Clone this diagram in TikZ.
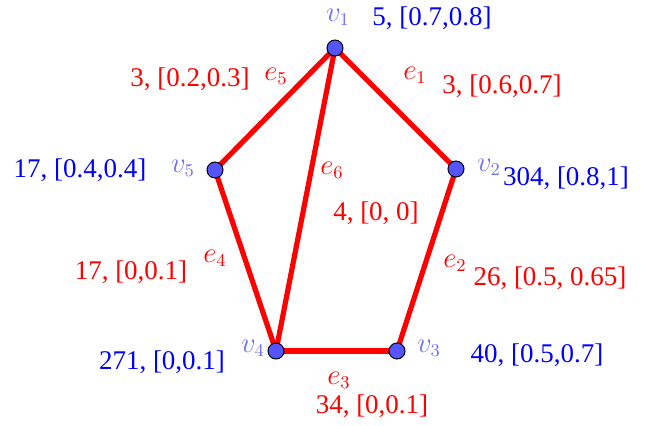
\documentclass[tikz,border=0pt]{standalone}
\usepackage{fontspec}
\setmainfont{Liberation Serif}
\usetikzlibrary{backgrounds}
\definecolor{vblue}{RGB}{85,85,255}
\definecolor{lblue}{RGB}{110,110,255}
\definecolor{tblue}{RGB}{0,0,255}
\definecolor{ered}{RGB}{255,0,0}
\begin{document}
\begin{tikzpicture}[x=0.5pt,y=-0.5pt,
  vert/.style={circle,draw=black,line width=0.5pt,fill=vblue,minimum size=8pt,inner sep=0pt},
  edge/.style={ered,line width=2.6pt},
  lab/.style={inner sep=0pt,font=\fontsize{13.5}{15}\selectfont},
  vlab/.style={lab,text=lblue},
  vval/.style={lab,text=tblue},
  elab/.style={lab,text=ered}]
\useasboundingbox (0,0) rectangle (645,425);
\node[vert] (v1) at (335,48) {};
\node[vert] (v2) at (456,169) {};
\node[vert] (v3) at (397,351) {};
\node[vert] (v4) at (276,351) {};
\node[vert] (v5) at (215,170) {};
\begin{scope}[on background layer]
\draw[edge] (v1.center) -- (v2.center);
\draw[edge] (v2.center) -- (v3.center);
\draw[edge] (v3.center) -- (v4.center);
\draw[edge] (v4.center) -- (v5.center);
\draw[edge] (v5.center) -- (v1.center);
\draw[edge] (v1.center) -- (v4.center);
\end{scope}
% vertex labels
\node[vlab] (l1) at (338,17) {$v_1$};
\node[vlab] (l2) at (489,167) {$v_2$};
\node[vlab] (l3) at (429,348) {$v_3$};
\node[vlab] (l4) at (253,348) {$v_4$};
\node[vlab] (l5) at (183,168) {$v_5$};
% vertex values
\node[vval] (w1) at (432,18) {5, [0.7,0.8]};
\node[vval] (w2) at (566,178) {304, [0.8,1]};
\node[vval] (w3) at (537,355) {40, [0.5,0.7]};
\node[vval] (w4) at (162,362) {271, [0,0.1]};
\node[vval] (w5) at (80,170) {17, [0.4,0.4]};
% edge labels
\node[elab] (e1) at (415,75) {$e_1$};
\node[elab] (e2) at (455,263) {$e_2$};
\node[elab] (e3) at (339,380) {$e_3$};
\node[elab] (e4) at (215,258) {$e_4$};
\node[elab] (e5) at (276,76) {$e_5$};
\node[elab] (e6) at (332,170) {$e_6$};
% edge values
\node[elab] (f1) at (502,86) {3, [0.6,0.7]};
\node[elab] (f2) at (550,278) {26, [0.5, 0.65]};
\node[elab] (f3) at (372,406) {34, [0,0.1]};
\node[elab] (f4) at (131,272) {17, [0,0.1]};
\node[elab] (f5) at (190,79) {3, [0.2,0.3]};
\node[elab] (f6) at (376,213) {4, [0, 0]};
\end{tikzpicture}
\end{document}
